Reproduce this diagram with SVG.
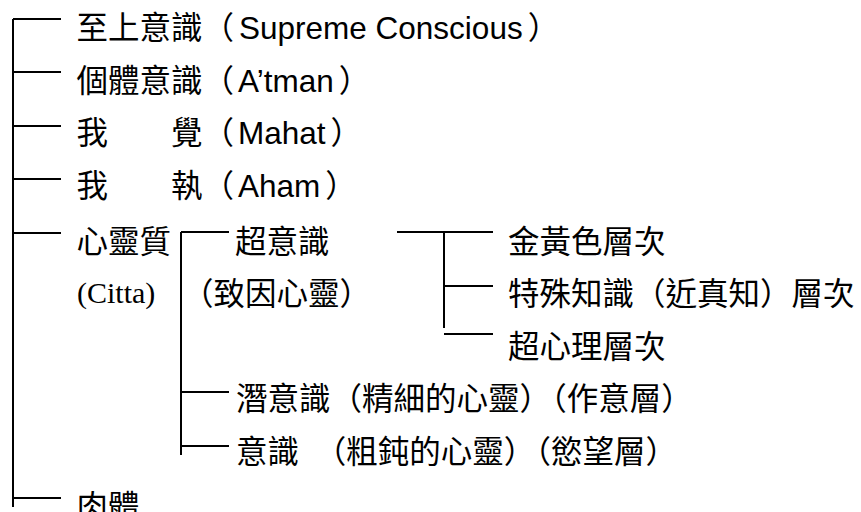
<svg xmlns="http://www.w3.org/2000/svg" width="861" height="512" viewBox="0 0 861 512">
<style>
  .ln { stroke: #000; stroke-width: 2; fill: none; }
  .t { font-family: 'Liberation Sans', 'Noto Sans CJK TC', sans-serif; font-size: 31.5px; fill: #000; }
  .s { font-family: 'Liberation Serif', 'Noto Sans CJK TC', serif; font-size: 30px; fill: #000; }
</style>
<rect width="861" height="512" fill="#fff"/>
<g id="connectors">
  <path class="ln" d="M13 19 V507 M13 19 H61 M13 72 H61 M13 126 H61 M13 179 H61 M13 233 H61 M13 498 H61"/>
  <path class="ln" d="M181 232 V455 M181 232 H229 M181 392 H229 M181 446 H229"/>
  <path class="ln" d="M397 232 H493 M444 232 V328 M444 286 H493 M444 334 H493"/>
</g>
<g id="n1"><text class="t" x="76.5" y="38.5">至上意識（<tspan dx="5">Supreme Conscious</tspan><tspan dx="5">）</tspan></text></g>
<g id="n2"><text class="t" x="76.5" y="91.5">個體意識（<tspan dx="4">A’tman</tspan><tspan dx="5">）</tspan></text></g>
<g id="n3"><text class="t" x="76.5" y="144">我　　覺（<tspan dx="4">Mahat</tspan><tspan dx="5">）</tspan></text></g>
<g id="n4"><text class="t" x="76.5" y="197">我　　執（<tspan dx="4">Aham</tspan><tspan dx="5">）</tspan></text></g>
<g id="n5"><text class="t" x="76.5" y="253">心靈質</text><text class="s" x="77" y="303">(Citta)</text></g>
<g id="n6"><text class="t" x="235" y="253">超意識</text><text class="t" x="182" y="305">（致因心靈）</text></g>
<g id="n7"><text class="t" x="508" y="253">金黃色層次</text></g>
<g id="n8"><text class="t" x="508" y="305">特殊知識（近真知）層次</text></g>
<g id="n9"><text class="t" x="508" y="358">超心理層次</text></g>
<g id="n10"><text class="t" x="236" y="410">潛意識（精細的心靈）（作意層）</text></g>
<g id="n11"><text class="t" x="236" y="463">意識　（粗鈍的心靈）（慾望層）</text></g>
<g id="n12"><text class="t" x="76.5" y="518">肉體</text></g>
</svg>
